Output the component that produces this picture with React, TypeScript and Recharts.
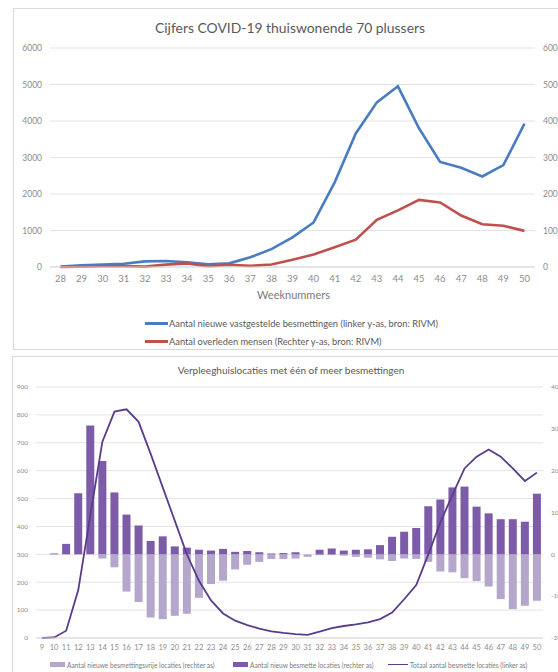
import React from 'react';
import { ComposedChart, Line, Bar, XAxis, YAxis, CartesianGrid } from 'recharts';

// ---- Chart 1: Cijfers COVID-19 thuiswonende 70 plussers ----
const weeksTop = ['28','29','30','31','32','33','34','35','36','37','38','39','40','41','42','43','44','45','46','47','48','49','50'];
const besmettingen = [10,45,65,90,155,165,127,73,100,265,490,810,1220,2320,3660,4510,4950,3800,2880,2720,2480,2790,3930];
const overleden = [0,1,2,2.5,1,6.5,10,2,6,3,7,20,34,54,75,129,155,184,177,141,117,113,99];
const leftTicksTop = [0,1000,2000,3000,4000,5000,6000];
const rightTicksTop = [0,100,200,300,400,500,600];

// ---- Chart 2: Verpleeghuislocaties ----
const weeksBottom = ['9','10','11','12','13','14','15','16','17','18','19','20','21','22','23','24','25','26','27','28','29','30','31','32','33','34','35','36','37','38','39','40','41','42','43','44','45','46','47','48','49','50'];
const besmettingsvrij = [0,0,0,0,0,-10,-31,-89,-114,-151,-155,-147,-142,-104,-71,-63,-36,-25,-18,-11,-11,-10,-6,-2,-2,-3,-6,-8,-12,-16,-10,-11,-18,-41,-43,-57,-64,-77,-107,-131,-123,-111];
const nieuwBesmet = [0,2,25,146,308,223,148,95,69,32,43,19,16,11,9,13,6,8,5,2,3,5,0,11,14,9,11,12,22,42,54,63,115,131,160,162,114,98,84,84,78,145];
const totaalBesmet = [0,2,26,172,440,704,812,820,775,660,540,420,300,205,135,88,62,46,34,24,18,14,11,23,35,43,49,56,68,91,139,190,300,415,513,608,650,676,650,608,563,593];
const leftTicksBottom = [0,100,200,300,400,500,600,700,800,900];
const rightTicksBottom = [-200,-100,0,100,200,300,400];

const FONT = 'Lato, "Open Sans", sans-serif';
const TICK = '#8c8c8c';
const TITLE = '#595959';

function Txt({ x, y, size, color, children, center }: any) {
  return (
    <div style={{
      position: 'absolute', left: x, top: y, fontSize: size, color: color || TITLE,
      whiteSpace: 'nowrap', lineHeight: 1, fontFamily: FONT,
      transform: center ? 'translate(-50%,-50%)' : 'translate(0,-50%)'
    }}>{children}</div>
  );
}

export default function App() {
  const topData = weeksTop.map((w, i) => ({ week: w, besmettingen: besmettingen[i], overleden: overleden[i] }));
  const bottomData = weeksBottom.map((w, i) => ({ week: w, vrij: besmettingsvrij[i], besmet: nieuwBesmet[i], totaal: totaalBesmet[i] }));

  return (
    <div style={{ position: 'fixed', left: 0, top: 0, width: 558, height: 672, overflow: 'hidden', background: '#fff', fontFamily: FONT }}>
      {/* frames */}
      <div style={{ position: 'absolute', left: 13, top: 8, width: 600, height: 342, border: '1px solid #d9d9d9', boxSizing: 'border-box' }} />
      <div style={{ position: 'absolute', left: 12, top: 356, width: 600, height: 400, border: '1px solid #d9d9d9', boxSizing: 'border-box' }} />

      {/* Chart 1 */}
      <div style={{ position: 'absolute', left: 0, top: 0 }}>
        <ComposedChart width={600} height={350} data={topData} margin={{ top: 48, right: 25, bottom: 0, left: 0 }}>
          <CartesianGrid yAxisId="left" vertical={false} stroke="#e3e3e3" />
          <XAxis dataKey="week" scale="band" height={83} tickLine={false} axisLine={{ stroke: '#d9d9d9' }}
            tick={{ fill: TICK, fontSize: 9.5, fontFamily: FONT }} interval={0} />
          <YAxis yAxisId="left" width={50} domain={[0, 6000]} ticks={leftTicksTop} tickLine={false} axisLine={false}
            tick={{ fill: TICK, fontSize: 8.5, fontFamily: FONT }} />
          <YAxis yAxisId="right" orientation="right" width={40} domain={[0, 600]} ticks={rightTicksTop} tickLine={false} axisLine={false}
            tick={{ fill: TICK, fontSize: 8.5, fontFamily: FONT, textAnchor: 'start' }} />
          <Line yAxisId="left" dataKey="besmettingen" stroke="#4a7dc0" strokeWidth={2.6} dot={false} isAnimationActive={false} />
          <Line yAxisId="right" dataKey="overleden" stroke="#c0504d" strokeWidth={2.6} dot={false} isAnimationActive={false} />
        </ComposedChart>
      </div>
      <Txt x={290} y={28} size={13.9} center>Cijfers COVID-19 thuiswonende 70 plussers</Txt>
      <Txt x={293.5} y={294} size={11} color="#7a7a7a" center>Weeknummers</Txt>
      <div style={{ position: 'absolute', left: 145, top: 322, width: 23, height: 2.6, background: '#4a7dc0' }} />
      <Txt x={169} y={323.5} size={9.3}>Aantal nieuwe vastgestelde besmettingen (linker y-as, bron: RIVM)</Txt>
      <div style={{ position: 'absolute', left: 145, top: 340, width: 23, height: 2.6, background: '#c0504d' }} />
      <Txt x={169} y={341.5} size={9.3}>Aantal overleden mensen (Rechter y-as, bron: RIVM)</Txt>

      {/* Chart 2 */}
      <div style={{ position: 'absolute', left: 0, top: 356 }}>
        <ComposedChart width={600} height={330} data={bottomData} stackOffset="sign" margin={{ top: 31, right: 27, bottom: 0, left: 0 }}>
          <CartesianGrid yAxisId="left" vertical={false} stroke="#e3e3e3" />
          <XAxis dataKey="week" height={48} tickLine={false} axisLine={{ stroke: '#d9d9d9' }} tickMargin={1}
            tick={{ fill: TICK, fontSize: 7.5, fontFamily: FONT }} interval={0} />
          <YAxis yAxisId="left" width={36} domain={[0, 900]} ticks={leftTicksBottom} tickLine={false} axisLine={false}
            tick={{ fill: TICK, fontSize: 6.5, fontFamily: FONT }} />
          <YAxis yAxisId="right" orientation="right" width={30} domain={[-200, 400]} ticks={rightTicksBottom} tickLine={false} axisLine={false}
            tick={{ fill: TICK, fontSize: 6.5, fontFamily: FONT, textAnchor: 'start' }} />
          <Bar yAxisId="right" dataKey="vrij" stackId="a" fill="#b5a6cc" barSize={8} isAnimationActive={false} />
          <Bar yAxisId="right" dataKey="besmet" stackId="a" fill="#7c5ca8" barSize={8} isAnimationActive={false} />
          <Line yAxisId="left" dataKey="totaal" stroke="#5a3c8c" strokeWidth={1.8} dot={false} isAnimationActive={false} />
        </ComposedChart>
      </div>
      <Txt x={291} y={370} size={10} center>Verpleeghuislocaties met één of meer besmettingen</Txt>
      <div style={{ position: 'absolute', left: 50, top: 662, width: 15, height: 4.5, background: '#b5a6cc' }} />
      <Txt x={67} y={664.5} size={6.6} color="#7a7a7a">Aantal nieuwe besmettingsvrije locaties (rechter as)</Txt>
      <div style={{ position: 'absolute', left: 233, top: 662, width: 15, height: 4.5, background: '#7c5ca8' }} />
      <Txt x={250} y={664.5} size={6.6} color="#7a7a7a">Aantal nieuw besmette locaties (rechter as)</Txt>
      <div style={{ position: 'absolute', left: 388, top: 663.5, width: 20, height: 1.8, background: '#5a3c8c' }} />
      <Txt x={410} y={664.5} size={6.6} color="#7a7a7a">Totaal aantal besmette locaties (linker as)</Txt>
    </div>
  );
}
